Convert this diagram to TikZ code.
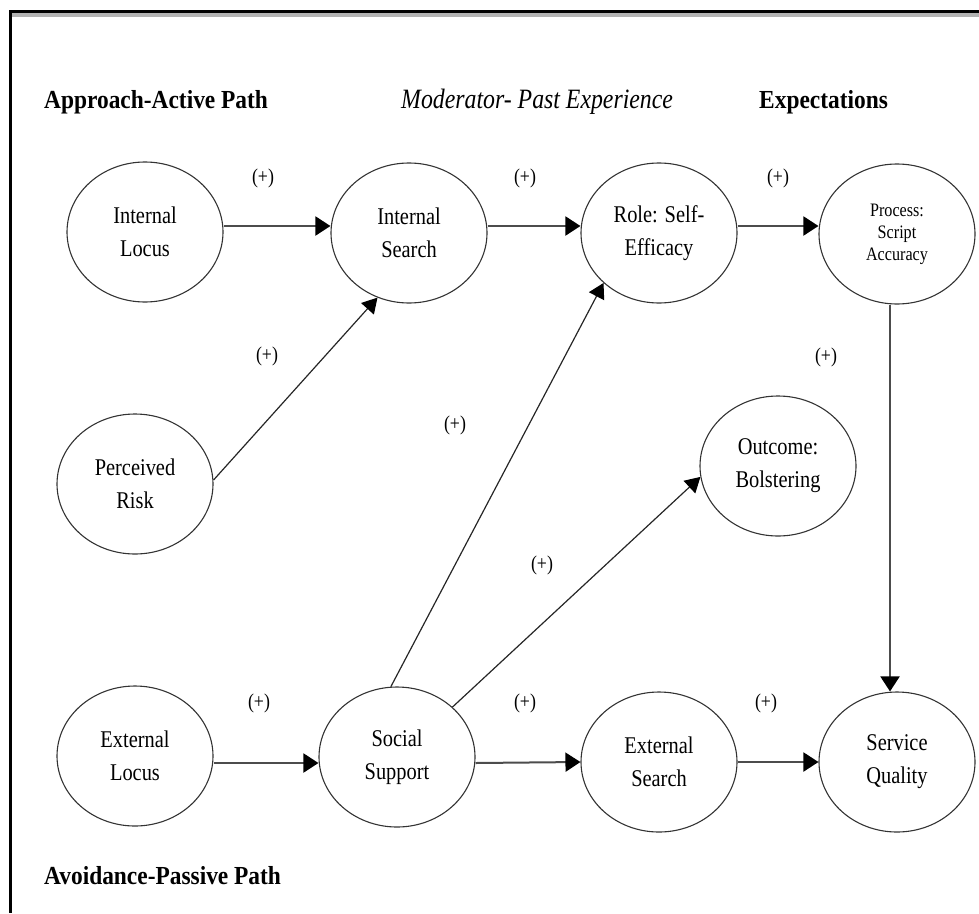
\documentclass[tikz,border=0pt]{standalone}
\usepackage{fontspec}
\setmainfont[FakeStretch=0.85]{Liberation Serif}
\newfontfamily\headfont[FakeStretch=0.9]{Liberation Serif}
\usetikzlibrary{shapes.geometric,arrows.meta}

\begin{document}
\begin{tikzpicture}[x=1pt,y=-1pt,
  construct/.style={ellipse, draw=black!80, line width=1.1pt, minimum width=156pt,
    minimum height=140pt, inner sep=0pt, align=center, font=\fontsize{24}{33}\selectfont},
  smallconstruct/.style={construct, font=\fontsize{19}{22}\selectfont},
  sign/.style={inner sep=0pt, font=\fontsize{21}{21}\selectfont},
  heading/.style={anchor=base west, inner sep=0pt, font=\headfont\bfseries\fontsize{26}{30}\selectfont},
  moderator/.style={anchor=base west, inner sep=0pt, font=\itshape\fontsize{28}{30}\selectfont},
  flat/.style={draw=black!70, line width=2pt, -{Triangle[length=15pt,width=19pt,color=black]}},
  slant/.style={draw=black!85, line width=1.2pt, -{Triangle[length=15pt,width=17pt,color=black]}},
]
\useasboundingbox (0,0) rectangle (979,913);

% page frame
\fill[gray!60] (12,12.5) rectangle (979,16.5);
\draw[black, line width=3pt] (9,11.5) -- (979,11.5);
\draw[black, line width=2.7pt] (10.3,10) -- (10.3,913);

% headings
\node[heading] (hA) at (44,108) {Approach-Active Path};
\node[moderator] (hM) at (401,108) {Moderator- Past Experience};
\node[heading] (hE) at (759,108) {Expectations};
\node[heading] (hP) at (44,884) {Avoidance-Passive Path};

% constructs
\node[construct] (il) at (145,232) {Internal\\Locus};
\node[construct] (is) at (409,233) {Internal\\Search};
\node[construct] (rs) at (659,233) {Role: Self-\\Efficacy};
\node[smallconstruct] (pc) at (897,234) {Process:\\Script\\Accuracy};
\node[construct] (pr) at (135,484) {Perceived\\Risk};
\node[construct] (ob) at (778,466) {Outcome:\\Bolstering};
\node[construct] (el) at (135,756) {External\\Locus};
\node[construct] (ss) at (397,757) {Social\\Support};
\node[construct] (es) at (659,762) {External\\Search};
\node[construct] (sq) at (897,762) {Service\\Quality};

% paths
\draw[flat] ([yshift=6pt]il.east) -- ([yshift=7pt]is.west);
\draw[flat] ([yshift=7pt]is.east) -- ([yshift=7pt]rs.west);
\draw[flat] ([yshift=7pt]rs.east) -- ([yshift=8pt]pc.west);
\draw[slant] ([yshift=4pt]pr.east) -- (is.244);
\draw[slant] (ss.95) -- (rs.222);
\draw[slant] (ss.42) -- (ob.188);
\draw[flat] ([yshift=-7pt]el.east) -- ([yshift=-6pt]ss.west);
\draw[flat] ([yshift=-6pt]ss.east) -- (es.west);
\draw[flat] (es.east) -- (sq.west);
\draw[flat] ([xshift=-7pt]pc.south) -- ([xshift=-7pt]sq.north);

% signs
\node[sign] (s1) at (263,178) {(+)};
\node[sign] (s2) at (525,178) {(+)};
\node[sign] (s3) at (778,178) {(+)};
\node[sign] (s4) at (267,356) {(+)};
\node[sign] (s5) at (826,357) {(+)};
\node[sign] (s6) at (455,425) {(+)};
\node[sign] (s7) at (542,565) {(+)};
\node[sign] (s8) at (259,703) {(+)};
\node[sign] (s9) at (525,703) {(+)};
\node[sign] (s10) at (766,703) {(+)};
\end{tikzpicture}
\end{document}
